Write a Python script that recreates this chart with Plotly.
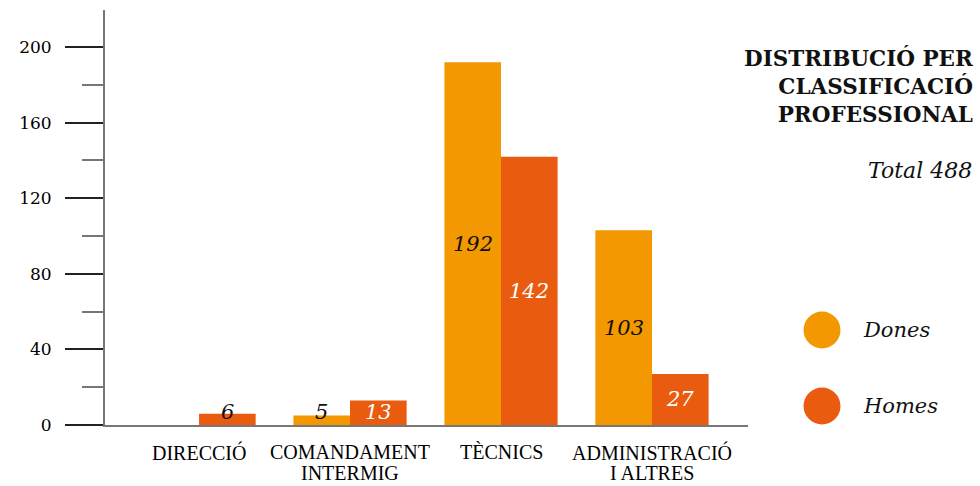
import plotly.graph_objects as go

# Staff by professional classification, split by sex
categories = ["DIRECCIÓ", "COMANDAMENT<br>INTERMIG", "TÈCNICS", "ADMINISTRACIÓ<br>I ALTRES"]
dones = [0, 5, 192, 103]
homes = [6, 13, 142, 27]
series_names = ["Dones", "Homes"]
y_ticks = [0, 40, 80, 120, 160, 200]
total = sum(dones) + sum(homes)

C_DONES = "#F39800"
C_HOMES = "#E95B0F"
SERIF = "DejaVu Serif"

BAR_W = 0.375          # width of each bar in category units
LABEL_MIN_Y = 7        # lowest centre for a value label, so short bars stay readable
LABEL_FIT_Y = 10       # bars shorter than this get a dark label

fig = go.Figure()
series = [(series_names[0], dones, C_DONES, "#111111", -BAR_W),
          (series_names[1], homes, C_HOMES, "#ffffff", 0.0)]
for name, vals, color, txt_color, off in series:
    fig.add_trace(go.Bar(
        x=list(range(len(categories))), y=vals, name=name,
        width=BAR_W, offset=off, marker_color=color, marker_line_width=0,
        showlegend=False, hoverinfo="skip",
    ))
    # value labels, centred on each bar
    for i, v in enumerate(vals):
        if not v:
            continue
        fig.add_annotation(
            x=i + off + BAR_W / 2, y=max(v / 2, LABEL_MIN_Y), xref="x", yref="y",
            text=f"<i>{v}</i>", showarrow=False,
            xanchor="center", yanchor="middle",
            font=dict(family=SERIF, size=21,
                      color=txt_color if v >= LABEL_FIT_Y else "#111111"),
        )

W, H = 980, 486
L, R, T, B = 105, 232, 10, 61
pw = W - L - R
ph = H - T - B

def px_x(px):
    return (px - L) / pw

def px_y(py):
    return (H - B - py) / ph

fig.update_layout(
    width=W, height=H,
    margin=dict(l=L, r=R, t=T, b=B, pad=0),
    paper_bgcolor="white", plot_bgcolor="white",
    barmode="overlay",
    font=dict(family=SERIF, color="#111"),
)
fig.update_xaxes(
    type="linear", range=[-0.623, 3.636], showgrid=False, zeroline=False,
    showline=True, linecolor="#777", linewidth=2,
    showticklabels=False, ticks="", automargin=False,
)
fig.update_yaxes(
    range=[0, 219.6], tickvals=y_ticks, showgrid=False, zeroline=False,
    showline=True, linecolor="#777", linewidth=2,
    ticks="outside", ticklen=38, tickwidth=1.5, tickcolor="#222",
    tickfont=dict(family=SERIF, size=17, color="#000"),
    ticklabelstandoff=10, automargin=False,
    minor=dict(dtick=20, tick0=20, ticks="outside", ticklen=21,
               tickwidth=1.5, tickcolor="#777", showgrid=False),
)

# Category labels under the axis, one line at a time for tight leading
for i, cat in enumerate(categories):
    for k, line in enumerate(cat.split("<br>")):
        fig.add_annotation(
            x=i, y=0, xref="x", yref="paper", yshift=-27 - 21 * k,
            text=line, showarrow=False, xanchor="center", yanchor="middle",
            font=dict(family="Liberation Serif", size=20, color="#000"),
        )

# Title block on the right
fig.add_annotation(
    xref="paper", yref="paper", x=px_x(975), y=px_y(43),
    xanchor="right", yanchor="top", align="right", showarrow=False,
    text="<b>DISTRIBUCIÓ PER<br>CLASSIFICACIÓ<br>PROFESSIONAL</b>",
    font=dict(family=SERIF, size=21.5, color="#111"),
)
fig.add_annotation(
    xref="paper", yref="paper", x=px_x(974), y=px_y(170),
    xanchor="right", yanchor="middle", showarrow=False,
    text=f"<i>Total {total}</i>",
    font=dict(family=SERIF, size=22, color="#111"),
)

# Legend drawn as circles with labels
for name, color, cy in [(series_names[0], C_DONES, 330), (series_names[1], C_HOMES, 406)]:
    fig.add_shape(
        type="circle", xref="paper", yref="paper",
        xsizemode="pixel", ysizemode="pixel",
        xanchor=px_x(822), yanchor=px_y(cy),
        x0=-18.5, x1=18.5, y0=-18.5, y1=18.5,
        fillcolor=color, line_width=0,
    )
    fig.add_annotation(
        xref="paper", yref="paper", x=px_x(861), y=px_y(cy),
        xanchor="left", yanchor="middle", showarrow=False,
        text=f"<i>{name}</i>",
        font=dict(family=SERIF, size=21, color="#111"),
    )

fig.write_html("out.html")
